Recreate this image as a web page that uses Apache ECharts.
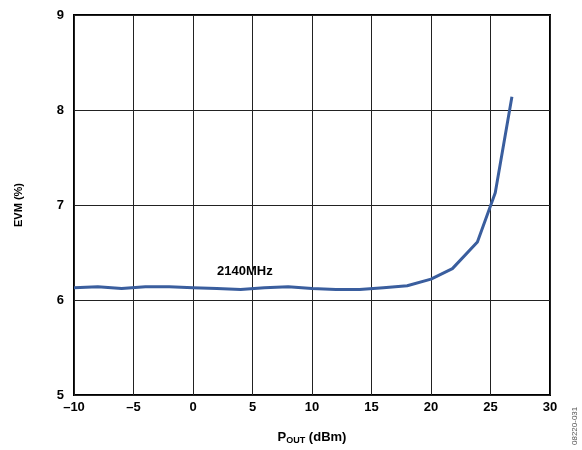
<!DOCTYPE html>
<html><head><meta charset="utf-8">
<script src="https://cdn.jsdelivr.net/npm/echarts@6/dist/echarts.min.js"></script>
<style>html,body{margin:0;padding:0;background:#fff}#c{width:582px;height:450px}</style>
</head><body><div id="c"></div>
<script>
const poutDbm = [-10, -8, -6, -4, -2, 0, 2, 4, 6, 8, 10, 12, 14, 16, 18, 20, 21.8, 23.9, 25.4, 26.8];
const evmPct  = [6.13, 6.14, 6.12, 6.14, 6.14, 6.13, 6.12, 6.11, 6.13, 6.14, 6.12, 6.11, 6.11, 6.13, 6.15, 6.22, 6.33, 6.61, 7.13, 8.14];
const seriesLabel = '2140MHz';
const xTitle = 'P';
const xTitleSub = 'OUT';
const xTitleRest = ' (dBm)';
const yTitle = 'EVM (%)';
const figCode = '08220-031';

const FF = 'Arial, "Liberation Sans", sans-serif';
const chart = echarts.init(document.getElementById('c'));
const lab = {fontFamily:FF, fontWeight:'bold', color:'#000'};
chart.setOption({
  animation:false,
  grid:{left:74, right:32, top:15, bottom:54, show:true, borderColor:'#000', borderWidth:2},
  xAxis:{type:'value', min:-10, max:30, interval:5,
    axisLine:{show:false}, axisTick:{show:false},
    splitLine:{show:true, lineStyle:{color:'#222', width:1}},
    axisLabel:Object.assign({fontSize:13, margin:6, formatter:v=>String(v).replace('-', '\u2013')}, lab),
    name:'{a|'+xTitle+'}{b|'+xTitleSub+'}{a|'+xTitleRest+'}', nameLocation:'middle', nameGap:34,
    nameTextStyle:{rich:{a:Object.assign({fontSize:13}, lab), b:Object.assign({fontSize:9, padding:[7,0,0,0]}, lab)}}
  },
  yAxis:{type:'value', min:5, max:9, interval:1,
    axisLine:{show:false}, axisTick:{show:false},
    splitLine:{show:true, lineStyle:{color:'#222', width:1}},
    axisLabel:Object.assign({fontSize:13, margin:10}, lab),
    name:yTitle, nameLocation:'middle', nameGap:50,
    nameTextStyle:Object.assign({fontSize:11}, lab)
  },
  series:[{type:'line', data:poutDbm.map((x,i)=>[x, evmPct[i]]), showSymbol:false,
    lineStyle:{color:'#3a5e9e', width:3}, smooth:false}],
  graphic:[
    {type:'text', left:217, top:265, style:{text:seriesLabel, fontSize:13, fontWeight:'bold', fontFamily:FF, fill:'#000'}},
    {type:'text', x:571, y:445, rotation:Math.PI/2, style:{text:figCode, fontSize:8, fontFamily:FF, fill:'#555'}}
  ]
});
</script></body></html>
